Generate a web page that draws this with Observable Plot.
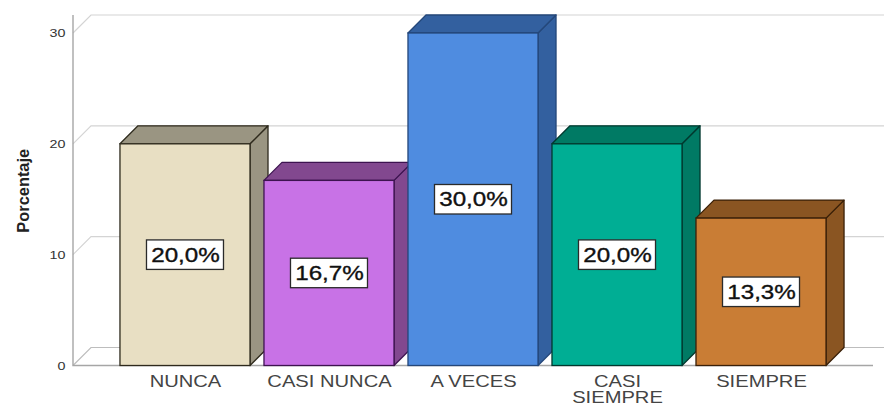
<!DOCTYPE html>
<html>
<head>
<meta charset="utf-8">
<script src="https://cdn.jsdelivr.net/npm/d3@7"></script>
<script src="https://cdn.jsdelivr.net/npm/@observablehq/plot@0.6"></script>
<style>
html,body{margin:0;padding:0;background:#fff;overflow:hidden}
</style>
</head>
<body>
<div id="chart"></div>
<script>
const categories = ["NUNCA", "CASI NUNCA", "A VECES", "CASI SIEMPRE", "SIEMPRE"];
const values = [20, 16.7, 30, 20, 13.3];
const valueLabels = ["20,0%", "16,7%", "30,0%", "20,0%", "13,3%"];
const faceColors = ["#e8dfc3", "#c872e6", "#4f8ce0", "#00ae94", "#c97d35"];
const depthColors = ["#9a9582", "#82488f", "#33609f", "#007a64", "#8a5522"];
const edgeColors = ["#2e2a1c", "#3d1350", "#24477a", "#00382e", "#3a2008"];
const yTicks = [0, 10, 20, 30];
const tickLabels = {"CASI SIEMPRE": "CASI\nSIEMPRE"};

const table = categories.map((c, i) => ({
  category: c, value: values[i], label: valueLabels[i],
  face: faceColors[i], depth: depthColors[i], edge: edgeColors[i]
}));

const DEPTH = 18;

function wallMark(index, {x, y}) {
  const g = d3.create("svg:g").attr("fill", "none");
  const left = 73;
  for (const t of yTicks) {
    const yy = y(t);
    g.append("path")
      .attr("d", `M${left},${yy}L${left + DEPTH},${yy - DEPTH}L884,${yy - DEPTH}`)
      .attr("stroke", t === 0 ? "#bdbdbd" : "#d4d4d4")
      .attr("stroke-width", 1.2);
  }
  g.append("path")
    .attr("d", `M${left},${y(30) - DEPTH}L${left},${y(0)}L873,${y(0)}`)
    .attr("stroke", "#a6a6a6")
    .attr("stroke-width", 1.4);
  return g.node();
}

function depthMark(index, {x, y}) {
  const g = d3.create("svg:g").attr("stroke-width", 1.3).attr("stroke-linejoin", "round");
  const w = x.bandwidth();
  for (const r of table) {
    const x1 = x(r.category), x2 = x1 + w, y1 = y(r.value), y0 = y(0);
    g.append("path").attr("fill", r.depth).attr("stroke", r.edge)
      .attr("d", `M${x2},${y1}L${x2 + DEPTH},${y1 - DEPTH}L${x2 + DEPTH},${y0 - DEPTH}L${x2},${y0}Z`);
    g.append("path").attr("fill", r.depth).attr("stroke", r.edge)
      .attr("d", `M${x1},${y1}L${x1 + DEPTH},${y1 - DEPTH}L${x2 + DEPTH},${y1 - DEPTH}L${x2},${y1}Z`);
  }
  return g.node();
}

function labelBoxMark(index, {x, y}) {
  const g = d3.create("svg:g");
  const w = x.bandwidth(), bw = 77, bh = 29.5;
  for (const r of table) {
    g.append("rect")
      .attr("x", x(r.category) + w / 2 - bw / 2)
      .attr("y", y(r.value / 2) - bh / 2)
      .attr("width", bw).attr("height", bh)
      .attr("fill", "#fff").attr("stroke", "#2a2a2a").attr("stroke-width", 1.3);
  }
  return g.node();
}

const plot = Plot.plot({
  width: 884,
  height: 407,
  marginLeft: 73,
  marginRight: 0,
  marginTop: 33,
  marginBottom: 41.5,
  style: {fontFamily: "'Liberation Sans', Arial, sans-serif", background: "#fff"},
  x: {type: "band", domain: categories, range: [106, 840], padding: 0.097, round: false},
  y: {domain: [0, 30]},
  marks: [
    wallMark,
    depthMark,
    Plot.barY(table, {x: "category", y: "value", fill: "face", stroke: "edge", strokeWidth: 1.3}),
    labelBoxMark,
    Plot.text(table, {
      x: "category", y: d => d.value / 2, text: "label",
      fontSize: 20, fill: "#111", stroke: "#111", strokeWidth: 0.35
    }),
    Plot.axisX({
      anchor: "bottom", label: null, tickSize: 0, tickPadding: 10,
      tickFormat: d => tickLabels[d] ?? d,
      fontSize: 16, fill: "#444", lineHeight: 1
    }),
    Plot.axisY({
      anchor: "left", ticks: yTicks, tickSize: 0, tickPadding: 8,
      fontSize: 11, fill: "#333",
      label: "Porcentaje", labelAnchor: "center", labelArrow: "none", labelOffset: 56
    })
  ]
});

const stretch = (sel, sx, sy) => plot.querySelectorAll(sel).forEach(t => {
  const tr = t.getAttribute("transform") || "";
  t.setAttribute("transform", `${tr} scale(${sx},${sy})`);
});
stretch('g[aria-label="text"] text', 1.21, 1);
stretch('g[aria-label="x-axis tick label"] text', 1.26, 1);
stretch('g[aria-label="y-axis tick label"] text', 1.3, 1);
plot.querySelectorAll('g[aria-label="y-axis label"] text').forEach(t => {
  t.setAttribute("font-weight", "bold");
  t.setAttribute("font-size", "16.4");
  t.setAttribute("fill", "#222");
  t.setAttribute("transform", `translate(0,-9) ${t.getAttribute("transform") || ""}`);
});

document.getElementById("chart").append(plot);
</script>
</body>
</html>
